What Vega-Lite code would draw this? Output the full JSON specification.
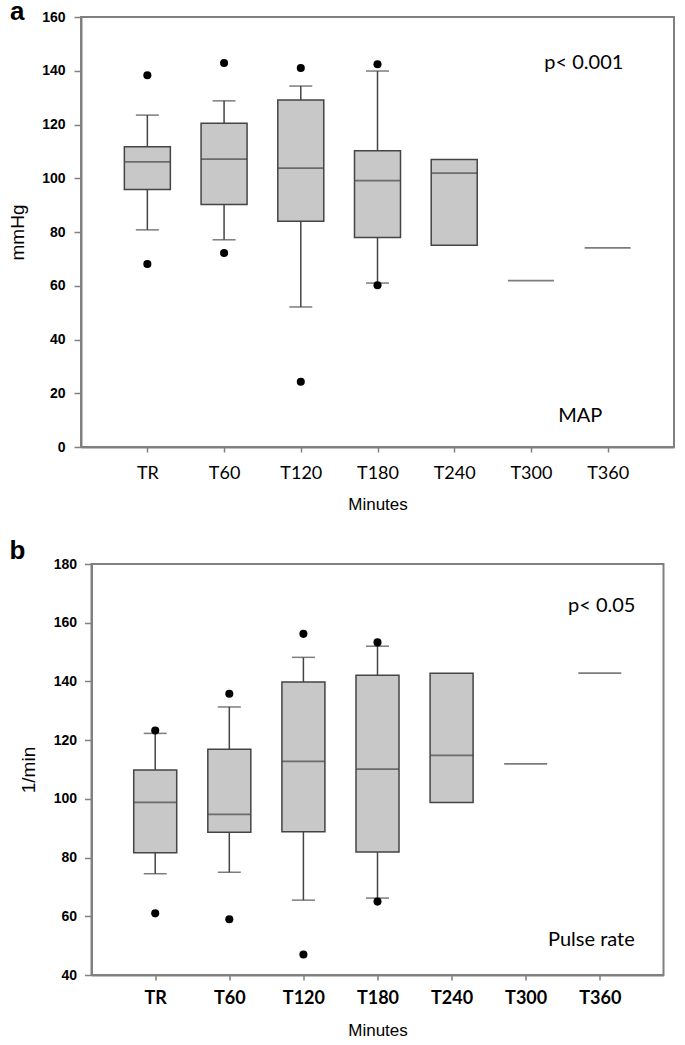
{
  "$schema": "https://vega.github.io/schema/vega-lite/v6.json",
  "background": "white",
  "padding": {"left": 7, "top": -2, "right": 5, "bottom": 5},
  "spacing": 24,
  "center": true,
  "datasets": {
    "mapBoxes": [
      {"t": "TR", "lo": 80.8, "q1": 95.8, "med": 106.1, "q3": 111.7, "hi": 123.5},
      {"t": "T60", "lo": 77.1, "q1": 90.2, "med": 107.1, "q3": 120.5, "hi": 128.8},
      {"t": "T120", "lo": 52.1, "q1": 84.0, "med": 103.8, "q3": 129.1, "hi": 134.3},
      {"t": "T180", "lo": 61.0, "q1": 78.0, "med": 99.1, "q3": 110.2, "hi": 139.9},
      {"t": "T240", "lo": null, "q1": 75.1, "med": 101.9, "q3": 107.0, "hi": null},
      {"t": "T300", "lo": null, "q1": null, "med": 61.9, "q3": null, "hi": null},
      {"t": "T360", "lo": null, "q1": null, "med": 74.1, "q3": null, "hi": null}
    ],
    "mapOut": [
      {"t": "TR", "v": 138.3}, {"t": "TR", "v": 68.1},
      {"t": "T60", "v": 142.9}, {"t": "T60", "v": 72.2},
      {"t": "T120", "v": 141.0}, {"t": "T120", "v": 24.3},
      {"t": "T180", "v": 142.4}, {"t": "T180", "v": 60.2}
    ],
    "mapNotes": [
      {"px": 0.848, "py": 142.9, "label": "p< 0.001"},
      {"px": 0.842, "py": 11.5, "label": "MAP"}
    ],
    "prBoxes": [
      {"t": "TR", "lo": 74.5, "q1": 81.6, "med": 98.8, "q3": 109.8, "hi": 122.3},
      {"t": "T60", "lo": 75.0, "q1": 88.6, "med": 94.7, "q3": 116.9, "hi": 131.3},
      {"t": "T120", "lo": 65.5, "q1": 88.8, "med": 112.8, "q3": 139.8, "hi": 148.2},
      {"t": "T180", "lo": 66.2, "q1": 81.9, "med": 110.1, "q3": 142.1, "hi": 152.0},
      {"t": "T240", "lo": null, "q1": 98.8, "med": 114.8, "q3": 142.8, "hi": null},
      {"t": "T300", "lo": null, "q1": null, "med": 111.9, "q3": null, "hi": null},
      {"t": "T360", "lo": null, "q1": null, "med": 142.8, "q3": null, "hi": null}
    ],
    "prOut": [
      {"t": "TR", "v": 123.3}, {"t": "TR", "v": 61.0},
      {"t": "T60", "v": 135.8}, {"t": "T60", "v": 59.0},
      {"t": "T120", "v": 156.2}, {"t": "T120", "v": 47.0},
      {"t": "T180", "v": 153.3}, {"t": "T180", "v": 65.0}
    ],
    "prNotes": [
      {"px": 0.892, "py": 165.8, "label": "p< 0.05"},
      {"px": 0.874, "py": 52.0, "label": "Pulse rate"}
    ]
  },
  "vconcat": [
    {
      "title": {"text": "a", "anchor": "start", "frame": "group", "dx": -71, "offset": -36, "baseline": "alphabetic", "fontSize": 26, "font": "Liberation Sans", "fontWeight": "bold", "color": "black"},
      "width": 593,
      "height": 430,
      "resolve": {"scale": {"x": "independent"}},
      "layer": [
        {
          "data": {"name": "mapBoxes"},
          "encoding": {
            "x": {"field": "t", "type": "ordinal", "sort": null, "title": "Minutes",
              "scale": {"type": "point", "domain": ["TR", "T60", "T120", "T180", "T240", "T300", "T360"], "padding": 0.865},
              "axis": {"labelPadding": 12, "titlePadding": 14}}
          },
          "layer": [
            {"mark": {"type": "rule", "color": "#444", "strokeWidth": 1.5},
             "encoding": {"y": {"field": "lo", "type": "quantitative", "title": "mmHg",
               "scale": {"domain": [0, 160]},
               "axis": {"values": [0, 20, 40, 60, 80, 100, 120, 140, 160], "labelPadding": 9, "titlePadding": 14}},
               "y2": {"field": "hi"}}},
            {"mark": {"type": "tick", "color": "#444", "size": 23, "thickness": 1.5},
             "encoding": {"y": {"field": "lo", "type": "quantitative", "title": "mmHg"}}},
            {"mark": {"type": "tick", "color": "#444", "size": 23, "thickness": 1.5},
             "encoding": {"y": {"field": "hi", "type": "quantitative", "title": "mmHg"}}},
            {"mark": {"type": "bar", "size": 46, "fill": "#c8c8c8", "stroke": "#444", "strokeWidth": 1.5},
             "encoding": {"y": {"field": "q1", "type": "quantitative", "title": "mmHg"}, "y2": {"field": "q3"}}},
            {"mark": {"type": "tick", "color": "#444", "size": 46, "thickness": 1.8},
             "encoding": {"y": {"field": "med", "type": "quantitative", "title": "mmHg"}}},
            {"data": {"name": "mapOut"},
             "mark": {"type": "circle", "color": "black", "size": 65, "opacity": 1},
             "encoding": {"y": {"field": "v", "type": "quantitative", "title": "mmHg"}}}
          ]
        },
        {
          "data": {"name": "mapNotes"},
          "mark": {"type": "text", "font": "Lato", "fontSize": 20, "color": "black"},
          "encoding": {
            "x": {"field": "px", "type": "quantitative", "scale": {"domain": [0, 1]}, "axis": null},
            "y": {"field": "py", "type": "quantitative", "title": "mmHg"},
            "text": {"field": "label"}
          }
        }
      ]
    },
    {
      "title": {"text": "b", "anchor": "start", "frame": "group", "dx": -82, "offset": -28, "baseline": "alphabetic", "fontSize": 26, "font": "Liberation Sans", "fontWeight": "bold", "color": "black"},
      "width": 572,
      "height": 411,
      "resolve": {"scale": {"x": "independent"}},
      "layer": [
        {
          "data": {"name": "prBoxes"},
          "encoding": {
            "x": {"field": "t", "type": "ordinal", "sort": null, "title": "Minutes",
              "scale": {"type": "point", "domain": ["TR", "T60", "T120", "T180", "T240", "T300", "T360"], "padding": 0.86},
              "axis": {"labelFontWeight": "bold", "labelPadding": 9, "titlePadding": 15}}
          },
          "layer": [
            {"mark": {"type": "rule", "color": "#444", "strokeWidth": 1.5},
             "encoding": {"y": {"field": "lo", "type": "quantitative", "title": "1/min",
               "scale": {"domain": [40, 180]},
               "axis": {"values": [40, 60, 80, 100, 120, 140, 160, 180], "labelPadding": 8, "titlePadding": 15}},
               "y2": {"field": "hi"}}},
            {"mark": {"type": "tick", "color": "#444", "size": 23, "thickness": 1.5},
             "encoding": {"y": {"field": "lo", "type": "quantitative", "title": "1/min"}}},
            {"mark": {"type": "tick", "color": "#444", "size": 23, "thickness": 1.5},
             "encoding": {"y": {"field": "hi", "type": "quantitative", "title": "1/min"}}},
            {"mark": {"type": "bar", "size": 43, "fill": "#c8c8c8", "stroke": "#444", "strokeWidth": 1.5},
             "encoding": {"y": {"field": "q1", "type": "quantitative", "title": "1/min"}, "y2": {"field": "q3"}}},
            {"mark": {"type": "tick", "color": "#444", "size": 43, "thickness": 1.8},
             "encoding": {"y": {"field": "med", "type": "quantitative", "title": "1/min"}}},
            {"data": {"name": "prOut"},
             "mark": {"type": "circle", "color": "black", "size": 65, "opacity": 1},
             "encoding": {"y": {"field": "v", "type": "quantitative", "title": "1/min"}}}
          ]
        },
        {
          "data": {"name": "prNotes"},
          "mark": {"type": "text", "font": "Lato", "fontSize": 20, "color": "black"},
          "encoding": {
            "x": {"field": "px", "type": "quantitative", "scale": {"domain": [0, 1]}, "axis": null},
            "y": {"field": "py", "type": "quantitative", "title": "1/min"},
            "text": {"field": "label"}
          }
        }
      ]
    }
  ],
  "config": {
    "view": {"stroke": "#808080", "strokeWidth": 2},
    "axis": {"grid": false, "domainColor": "#808080", "domainWidth": 2, "tickColor": "#808080", "tickWidth": 1.5, "labelColor": "black", "titleColor": "black"},
    "axisX": {"labelAngle": 0, "labelFont": "Lato", "labelFontSize": 18, "titleFont": "Liberation Sans", "titleFontSize": 17, "titleFontWeight": "normal", "tickSize": 5},
    "axisY": {"labelFont": "Liberation Sans", "labelFontSize": 14, "labelFontWeight": "bold", "titleFont": "Liberation Sans", "titleFontSize": 19, "titleFontWeight": "normal", "tickSize": 7},
    "tick": {"bandSize": 46}
  }
}
